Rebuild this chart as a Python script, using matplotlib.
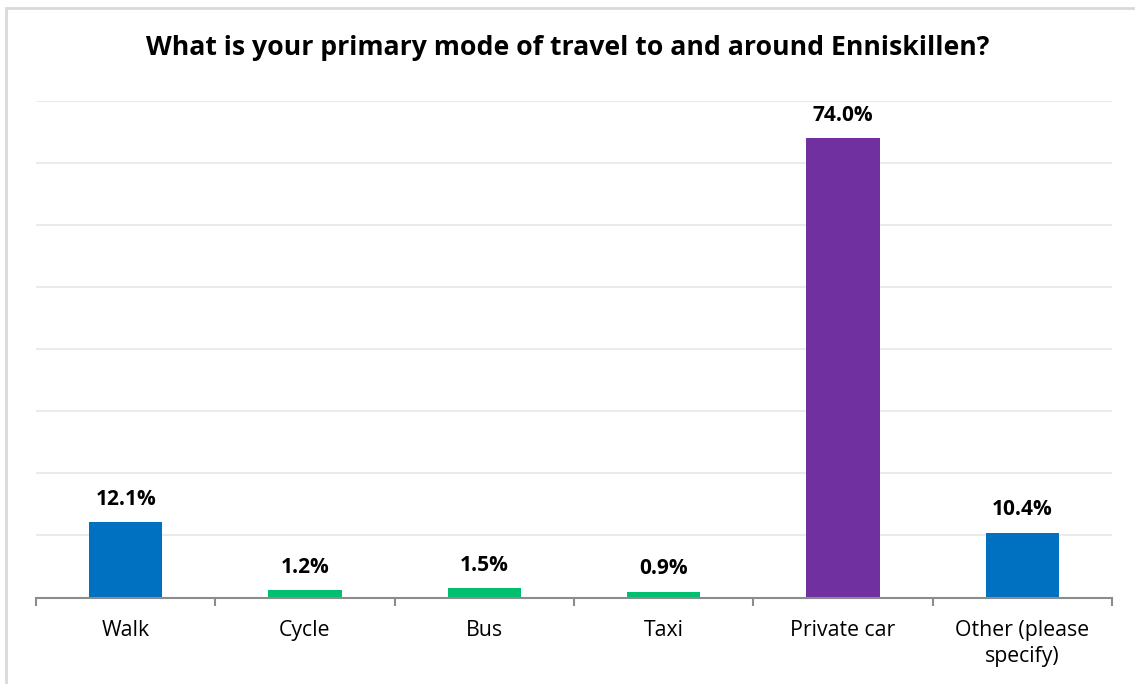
import matplotlib
matplotlib.use("Agg")
import matplotlib.pyplot as plt
from matplotlib.patches import Rectangle
from matplotlib.ticker import MultipleLocator, FixedLocator

categories = ["Walk", "Cycle", "Bus", "Taxi", "Private car", "Other (please\nspecify)"]
values = [12.1, 1.2, 1.5, 0.9, 74.0, 10.4]
bar_colors = ["#0070C0", "#00BF6F", "#00BF6F", "#00BF6F", "#7030A0", "#0070C0"]
title = "What is your primary mode of travel to and around Enniskillen?"

plt.rcParams["font.family"] = ["Open Sans", "DejaVu Sans"]

W, H = 1135, 684
fig = plt.figure(figsize=(W / 100, H / 100), dpi=100)
fig.patch.set_facecolor("white")

# chart frame (open on right and bottom edges)
fig.patches.append(Rectangle((6 / W, -0.1), 1.2, (H - 8) / H + 0.1,
                             transform=fig.transFigure, fill=False,
                             edgecolor="#D9D9D9", linewidth=2))

ax = fig.add_axes([36 / W, (H - 597.5) / H, (1112 - 36) / W, (597.5 - 101) / H])
x = list(range(len(categories)))
bars = ax.bar(x, values, width=0.41, color=bar_colors, zorder=3)

ax.set_xlim(-0.5, len(categories) - 0.5)
ax.set_ylim(0, 80)
ax.yaxis.set_major_locator(MultipleLocator(10))
ax.grid(axis="y", color="#EBEBEB", linewidth=1.5, zorder=0)
ax.tick_params(axis="y", left=False, labelleft=False)

for s in ["top", "right", "left"]:
    ax.spines[s].set_visible(False)
ax.spines["bottom"].set_color("#8C8C8C")
ax.spines["bottom"].set_linewidth(1.5)
ax.spines["bottom"].set_zorder(4)

# category boundary ticks, labels centred under bars
ax.xaxis.set_major_locator(FixedLocator([i - 0.5 for i in range(len(categories) + 1)]))
ax.xaxis.set_minor_locator(FixedLocator(x))
ax.tick_params(axis="x", which="major", length=6, width=1.5, color="#8C8C8C",
               labelbottom=False, direction="out")
ax.tick_params(axis="x", which="minor", length=0, pad=16)
ax.set_xticklabels(categories, minor=True, fontsize=15.3, color="#000000",
                   linespacing=1.3)

for rect, v in zip(bars, values):
    ax.annotate(f"{v:.1f}%", (rect.get_x() + rect.get_width() / 2, v),
                xytext=(0, 9), textcoords="offset points",
                ha="center", va="bottom", fontsize=15, fontweight="bold",
                color="#000000")

fig.text(0.5, (H - 48) / H, title, ha="center", va="center",
         fontsize=19.2, fontweight="bold", color="#000000")

fig.savefig("out.png", dpi=100)
